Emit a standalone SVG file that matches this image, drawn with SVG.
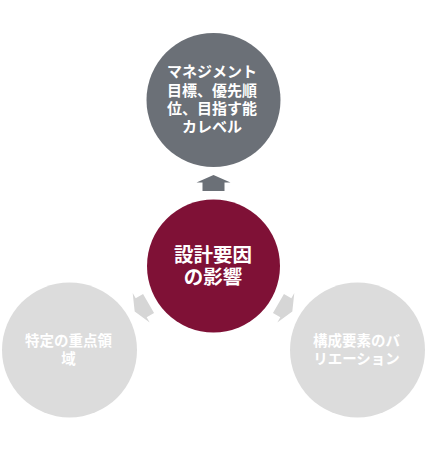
<svg xmlns="http://www.w3.org/2000/svg" width="427" height="449" viewBox="0 0 427 449">
<defs>
<style>
.t{font-family:"Noto Sans CJK JP","Noto Sans",sans-serif;font-weight:bold;fill:#ffffff;text-anchor:middle}
.dark{fill:#6b7077}
.main{fill:#7f1136}
.light{fill:#dcdcdc}
.la{fill:#d6d6d6}
</style>
<path id="arr" d="M213.5,175 L230.5,182.5 L224.5,182.5 L224.5,191 L202.5,191 L202.5,182.5 L196.5,182.5 Z"/>
</defs>
<rect width="427" height="449" fill="#ffffff"/>
<g id="connectors">
<use href="#arr" class="dark"/>
<use href="#arr" class="la" transform="rotate(-120 213.5 266)"/>
<use href="#arr" class="la" transform="rotate(120 213.5 266)"/>
</g>
<g id="node-top">
<circle cx="213.5" cy="100" r="67" class="dark"/>
<text class="t" font-size="15" x="212" y="77">マネジメント</text>
<text class="t" font-size="15" x="212" y="95.5">目標、優先順</text>
<text class="t" font-size="15" x="212" y="114">位、目指す能</text>
<text class="t" font-size="15" x="212" y="132">カレベル</text>
</g>
<g id="node-center">
<circle cx="213.5" cy="266" r="66.5" class="main"/>
<text class="t" font-size="19.5" x="213" y="262">設計要因</text>
<text class="t" font-size="19.5" x="213" y="284">の影響</text>
</g>
<g id="node-left">
<circle cx="69.5" cy="350" r="67.5" class="light"/>
<text class="t" font-size="14.5" x="68.5" y="346">特定の重点領</text>
<text class="t" font-size="14.5" x="68.5" y="364">域</text>
</g>
<g id="node-right">
<circle cx="357.5" cy="350" r="67.5" class="light"/>
<text class="t" font-size="14.5" x="356.5" y="346">構成要素のバ</text>
<text class="t" font-size="14.5" x="356.5" y="364">リエーション</text>
</g>
</svg>
